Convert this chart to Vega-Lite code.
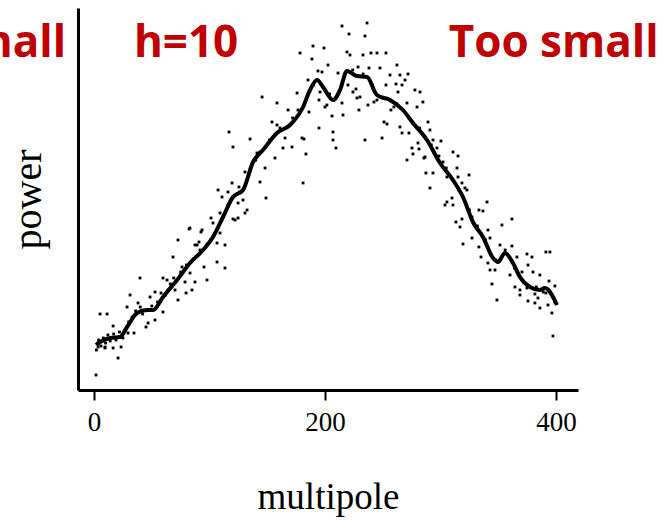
{
  "$schema": "https://vega.github.io/schema/vega-lite/v6.json",
  "width": 500,
  "height": 382,
  "autosize": "none",
  "padding": {"left": 78, "top": 8, "right": 94, "bottom": 131},
  "background": "white",
  "config": {"view": {"stroke": null}},
  "datasets": {
    "pts": [
      {"m":1.7,"p":15},{"m":3.5,"p":47},{"m":3.5,"p":43},{"m":5.2,"p":76},{"m":9.5,"p":43},{"m":9.5,"p":42},{"m":11.3,"p":76},{"m":16.5,"p":64},{"m":16.5,"p":42},{"m":20.8,"p":32},{"m":23.4,"p":43},{"m":28.6,"p":83},{"m":29.4,"p":57},{"m":31.2,"p":95},{"m":34.6,"p":57},{"m":38.1,"p":87},{"m":39.8,"p":112},{"m":45,"p":63},{"m":46.8,"p":67},{"m":48.5,"p":93},{"m":52.8,"p":98},{"m":52.8,"p":70},{"m":59.7,"p":112},{"m":59.7,"p":78},{"m":63.2,"p":110},{"m":64.1,"p":100},{"m":68.4,"p":133},{"m":70.1,"p":100},{"m":72.7,"p":150},{"m":72.7,"p":90},{"m":76.2,"p":123},{"m":78.8,"p":108},{"m":79.7,"p":97},{"m":82.3,"p":161},{"m":83.1,"p":117},{"m":84.8,"p":100},{"m":87.4,"p":145},{"m":87.4,"p":108},{"m":90.9,"p":148},{"m":91.8,"p":140},{"m":92.6,"p":158},{"m":95.2,"p":123},{"m":97.8,"p":110},{"m":106.5,"p":147},{"m":106.5,"p":128},{"m":109.1,"p":157},{"m":113.4,"p":145},{"m":113.4,"p":122},{"m":107.4,"p":200},{"m":110.8,"p":193},{"m":109.1,"p":177},{"m":101.3,"p":172},{"m":103,"p":167},{"m":93.5,"p":160},{"m":83.1,"p":162},{"m":89.2,"p":145},{"m":116,"p":198},{"m":119.5,"p":207},{"m":120.3,"p":171},{"m":122.1,"p":170},{"m":124.7,"p":172},{"m":130.7,"p":177},{"m":132.5,"p":180},{"m":129,"p":190},{"m":124.7,"p":187},{"m":125.5,"p":203},{"m":130.7,"p":218},{"m":116.9,"p":258},{"m":120.3,"p":243},{"m":135.1,"p":251},{"m":141.1,"p":237},{"m":143.7,"p":238},{"m":143.7,"p":208},{"m":148.1,"p":222},{"m":148.9,"p":192},{"m":145.5,"p":293},{"m":154.1,"p":268},{"m":156.7,"p":232},{"m":158.4,"p":287},{"m":158.4,"p":265},{"m":163.6,"p":242},{"m":165.4,"p":252},{"m":168,"p":280},{"m":171.4,"p":243},{"m":175.8,"p":297},{"m":176.6,"p":280},{"m":178.4,"p":337},{"m":180.1,"p":252},{"m":181,"p":207},{"m":181.8,"p":251},{"m":183.5,"p":236},{"m":185.3,"p":310},{"m":186.1,"p":278},{"m":188.7,"p":331},{"m":189.6,"p":344},{"m":193.9,"p":319},{"m":194.8,"p":290},{"m":194.8,"p":262},{"m":195.7,"p":298},{"m":197.4,"p":318},{"m":199.1,"p":342},{"m":200,"p":283},{"m":201.7,"p":285},{"m":202.6,"p":325},{"m":206.1,"p":274},{"m":206.9,"p":258},{"m":206.9,"p":250},{"m":209.5,"p":242},{"m":211.3,"p":317},{"m":214.7,"p":364},{"m":214.7,"p":287},{"m":215.6,"p":275},{"m":219,"p":338},{"m":219.9,"p":305},{"m":220.8,"p":356},{"m":221.6,"p":335},{"m":224.2,"p":298},{"m":226.8,"p":301},{"m":227.7,"p":292},{"m":228.6,"p":323},{"m":229.4,"p":280},{"m":230.3,"p":293},{"m":232.9,"p":335},{"m":234.6,"p":354},{"m":234.6,"p":250},{"m":236.4,"p":367},{"m":237.2,"p":285},{"m":238.1,"p":322},{"m":239.8,"p":337},{"m":242.4,"p":288},{"m":245,"p":337},{"m":245,"p":290},{"m":247.6,"p":322},{"m":249.4,"p":252},{"m":251.1,"p":268},{"m":252.8,"p":337},{"m":252.8,"p":305},{"m":253.7,"p":266},{"m":256.3,"p":315},{"m":257.1,"p":280},{"m":259.7,"p":283},{"m":261.5,"p":306},{"m":262.3,"p":325},{"m":263.2,"p":298},{"m":264.9,"p":315},{"m":264.9,"p":263},{"m":266.7,"p":305},{"m":266.7,"p":257},{"m":269.3,"p":310},{"m":271,"p":287},{"m":271,"p":230},{"m":271.9,"p":316},{"m":272.7,"p":257},{"m":275.3,"p":242},{"m":276.2,"p":236},{"m":277.9,"p":300},{"m":279.7,"p":283},{"m":280.5,"p":247},{"m":281.4,"p":241},{"m":282.3,"p":298},{"m":284.8,"p":288},{"m":285.7,"p":232},{"m":286.6,"p":233},{"m":287.4,"p":217},{"m":289.2,"p":268},{"m":290.9,"p":202},{"m":290.9,"p":260},{"m":293.5,"p":250},{"m":293.5,"p":217},{"m":297,"p":242},{"m":298.7,"p":234},{"m":300.4,"p":249},{"m":302.2,"p":228},{"m":303.9,"p":185},{"m":305.6,"p":213},{"m":305.6,"p":188},{"m":310,"p":192},{"m":310.8,"p":238},{"m":310.8,"p":185},{"m":313.4,"p":168},{"m":314.3,"p":222},{"m":315.2,"p":234},{"m":315.2,"p":213},{"m":316.9,"p":163},{"m":318.6,"p":207},{"m":318.6,"p":171},{"m":319.5,"p":146},{"m":321.2,"p":202},{"m":322.9,"p":200},{"m":324.7,"p":215},{"m":327.3,"p":173},{"m":327.3,"p":152},{"m":333.3,"p":180},{"m":333.3,"p":143},{"m":335.1,"p":133},{"m":336.8,"p":179},{"m":340.3,"p":188},{"m":341.1,"p":160},{"m":341.1,"p":127},{"m":342.9,"p":152},{"m":342.9,"p":120},{"m":344.6,"p":106},{"m":347.2,"p":120},{"m":348.9,"p":90},{"m":351.5,"p":145},{"m":353.2,"p":165},{"m":360.2,"p":115},{"m":361.9,"p":171},{"m":361.9,"p":144},{"m":364.5,"p":103},{"m":366.2,"p":133},{"m":368.8,"p":100},{"m":368.8,"p":95},{"m":370.6,"p":118},{"m":374.9,"p":136},{"m":374.9,"p":102},{"m":375.8,"p":125},{"m":375.8,"p":89},{"m":379.2,"p":133},{"m":380.1,"p":118},{"m":381.8,"p":96},{"m":381.8,"p":87},{"m":384.4,"p":92},{"m":386.1,"p":115},{"m":386.1,"p":82},{"m":391.3,"p":138},{"m":391.3,"p":97},{"m":393.1,"p":85},{"m":394,"p":109},{"m":396.5,"p":77},{"m":397.4,"p":54},{"m":399.1,"p":104},{"m":394.8,"p":138},
      {"m":2,"p":40},{"m":4,"p":50},{"m":6,"p":44},{"m":8,"p":52},{"m":10,"p":47},{"m":12,"p":55},{"m":14,"p":49},{"m":17,"p":56},{"m":19,"p":50},{"m":22,"p":58},{"m":25,"p":52},{"m":27,"p":60},{"m":30,"p":68},{"m":33,"p":73},{"m":36,"p":79},{"m":40,"p":83},{"m":42,"p":76},{"m":50,"p":84},{"m":55,"p":88},{"m":58,"p":97},{"m":62,"p":95},{"m":66,"p":106},{"m":69,"p":112},{"m":75,"p":118},{"m":80,"p":125},{"m":86,"p":131},{"m":98,"p":146},{"m":101,"p":150},{"m":116,"p":185},{"m":118,"p":190},{"m":126,"p":198},{"m":134,"p":215},{"m":140,"p":230},{"m":152,"p":250},{"m":161,"p":262},{"m":172,"p":272},{"m":184,"p":291},{"m":190,"p":305},{"m":204,"p":296},{"m":211,"p":295},{"m":224,"p":320},{"m":233,"p":316},{"m":241,"p":305},{"m":250,"p":292},{"m":262,"p":286},{"m":273,"p":272},{"m":282,"p":262},{"m":292,"p":245},{"m":305,"p":222},{"m":316,"p":200},{"m":325,"p":180},{"m":332,"p":164},{"m":339,"p":150},{"m":348,"p":130},{"m":356,"p":140},{"m":364,"p":122},{"m":372,"p":108},{"m":383,"p":103},{"m":389,"p":98},{"m":399,"p":88}
    ],
    "smooth": [
      {"m":1.7,"p":45},{"m":5.2,"p":48},{"m":13.9,"p":52},{"m":22.5,"p":53},{"m":28.6,"p":63},{"m":37.2,"p":77},{"m":45.9,"p":80},{"m":51.1,"p":80},{"m":59.7,"p":93},{"m":71.9,"p":110},{"m":83.1,"p":127},{"m":94.4,"p":140},{"m":103,"p":153},{"m":111.7,"p":173},{"m":120.3,"p":193},{"m":129,"p":200},{"m":137.7,"p":228},{"m":146.3,"p":240},{"m":158.4,"p":257},{"m":169.7,"p":265},{"m":181,"p":283},{"m":187,"p":300},{"m":193.1,"p":310},{"m":198.3,"p":303},{"m":206.9,"p":290},{"m":213,"p":300},{"m":219,"p":319},{"m":227.7,"p":314},{"m":236.4,"p":313},{"m":245,"p":295},{"m":256.3,"p":290},{"m":267.5,"p":280},{"m":276.2,"p":267},{"m":288.3,"p":250},{"m":299.6,"p":227},{"m":310.8,"p":210},{"m":319.5,"p":193},{"m":328.1,"p":168},{"m":336.8,"p":153},{"m":345.5,"p":132},{"m":349.8,"p":128},{"m":355.9,"p":137},{"m":362.8,"p":127},{"m":368.8,"p":113},{"m":377.5,"p":103},{"m":386.1,"p":100},{"m":390.5,"p":102},{"m":400.9,"p":85}
    ],
    "labelsCenter": [
      {"m":79.7,"p":346,"t":"h=10"},
      {"m":398,"p":346,"t":"Too small"}
    ],
    "labelsRight": [
      {"m":-24.2,"p":346,"t":"mall"}
    ]
  },
  "encoding": {
    "x": {
      "field": "m", "type": "quantitative",
      "scale": {"domain": [-13.9, 419.1], "nice": false, "zero": false},
      "axis": {
        "values": [0, 200, 400], "grid": false,
        "domainColor": "black", "domainWidth": 3,
        "tickColor": "black", "tickWidth": 2, "tickSize": 10,
        "labelFont": "Liberation Serif", "labelFontSize": 27, "labelColor": "black", "labelPadding": 9,
        "title": "multipole", "titleFont": "Liberation Serif", "titleFontSize": 37, "titleFontWeight": "normal", "titleColor": "black", "titlePadding": 44
      }
    },
    "y": {
      "field": "p", "type": "quantitative",
      "scale": {"domain": [0, 382], "nice": false, "zero": false},
      "axis": {
        "grid": false, "ticks": false, "labels": false,
        "domainColor": "black", "domainWidth": 3,
        "title": "power", "titleFont": "Liberation Serif", "titleFontSize": 40, "titleFontWeight": "normal", "titleColor": "black", "titlePadding": 30
      }
    }
  },
  "layer": [
    {
      "data": {"name": "pts"},
      "mark": {"type": "point", "shape": "square", "filled": true, "size": 8, "color": "black", "opacity": 1}
    },
    {
      "data": {"name": "smooth"},
      "mark": {"type": "line", "color": "black", "strokeWidth": 4, "interpolate": "monotone"}
    },
    {
      "data": {"name": "labelsCenter"},
      "mark": {"type": "text", "font": "Open Sans", "fontWeight": "bold", "fontSize": 44, "color": "#C00000", "align": "center", "baseline": "middle"},
      "encoding": {"text": {"field": "t"}}
    },
    {
      "data": {"name": "labelsRight"},
      "mark": {"type": "text", "font": "Open Sans", "fontWeight": "bold", "fontSize": 44, "color": "#C00000", "align": "right", "baseline": "middle"},
      "encoding": {"text": {"field": "t"}}
    }
  ]
}
